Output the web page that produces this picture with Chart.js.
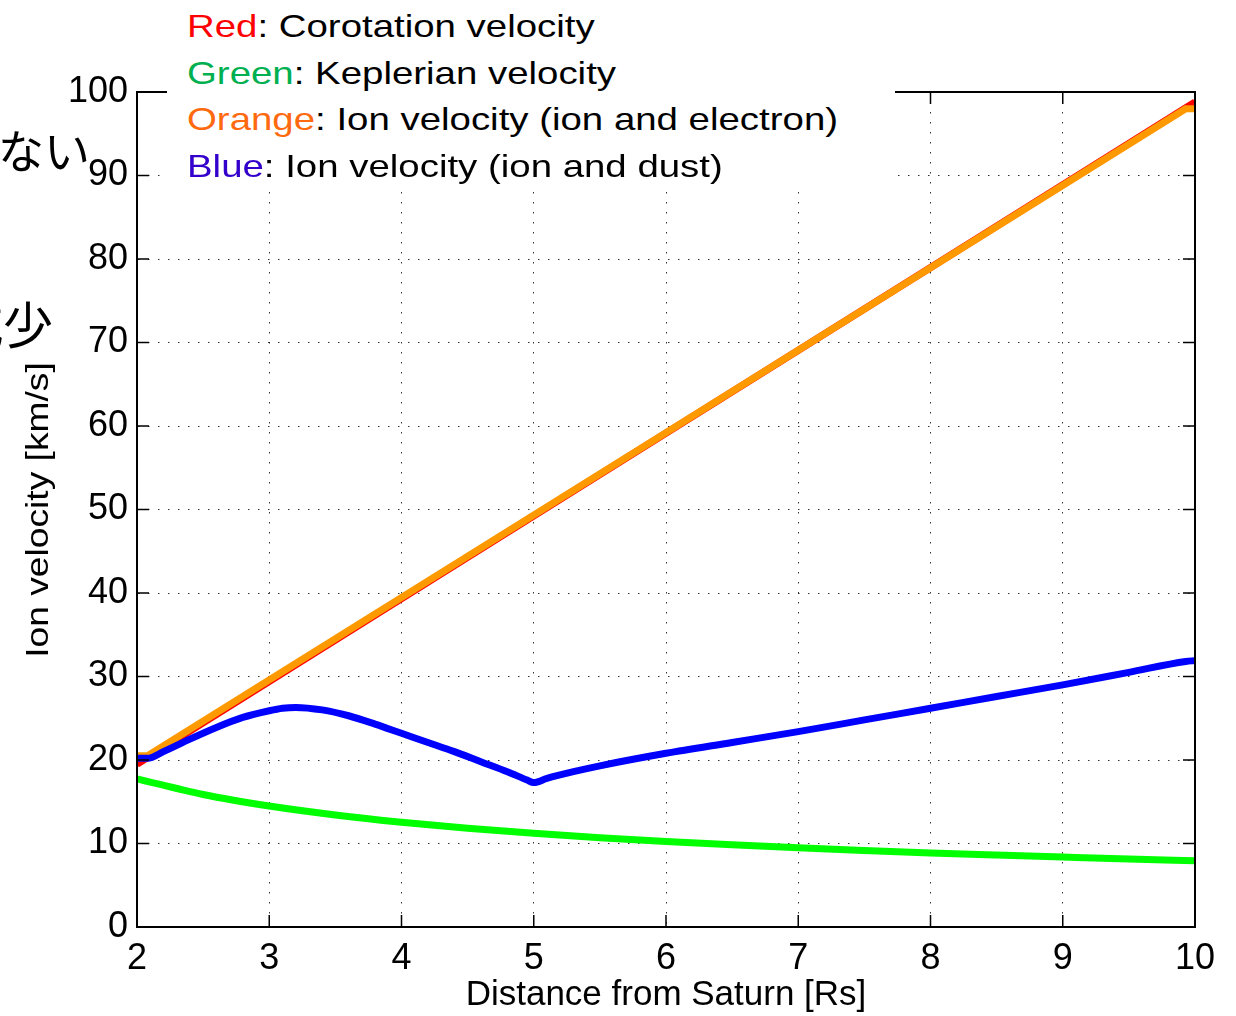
<!DOCTYPE html>
<html>
<head>
<meta charset="utf-8">
<script src="https://cdn.jsdelivr.net/npm/chart.js@4/dist/chart.umd.min.js"></script>
<style>
  html, body { margin: 0; padding: 0; background: #fff; }
  #wrap { position: relative; width: 1236px; height: 1016px; overflow: hidden; font-family: 'Liberation Sans', Arial, sans-serif; }
  canvas { position: absolute; left: 0; top: 0; }
  .frag { position: absolute; font-family: 'Noto Sans CJK JP', sans-serif; line-height: 1; white-space: nowrap; color: #000; }
  #legend { position: absolute; left: 167px; top: 0; width: 728px; height: 188px; background: #fff; }
  #legend .ln { position: absolute; left: 20px; font-size: 32px; line-height: 46.7px; white-space: nowrap; transform: scaleX(1.2); transform-origin: left center; color: #000; }
  #ytitle { position: absolute; left: 37px; top: 510px; font-size: 31px; line-height: 1; white-space: nowrap; transform: translate(-50%, -50%) rotate(-90deg) scaleX(1.2); color: #000; }
</style>
</head>
<body>
<div id="wrap">
  <canvas id="c" width="1236" height="1016"></canvas>
  <div class="frag" style="left:-2px; top:125px; font-size:46px;">ない</div>
  <div class="frag" style="left:-47px; top:297px; font-size:50px;">減少</div>
  <div id="ytitle">Ion velocity [km/s]</div>
  <div id="legend">
    <div class="ln" style="top:3px;"><span style="color:#ff0000">Red</span>: Corotation velocity</div>
    <div class="ln" style="top:49.7px;"><span style="color:#00b050">Green</span>: Keplerian velocity</div>
    <div class="ln" style="top:96.4px;"><span style="color:#ff6a10">Orange</span>: Ion velocity (ion and electron)</div>
    <div class="ln" style="top:143px;"><span style="color:#3300cc">Blue</span>: Ion velocity (ion and dust)</div>
  </div>
</div>
<script>
// ---- data ----
const xTicks = [2, 3, 4, 5, 6, 7, 8, 9, 10];
const yTicks = [0, 10, 20, 30, 40, 50, 60, 70, 80, 90, 100];

const redX = [2, 10];
const redY = [19.5, 98.8];

const orangeX = [2.0, 2.08, 9.93, 10.0];
const orangeY = [20.5, 20.5, 98.0, 98.0];

const greenX = [2.0, 2.5, 3.0, 3.5, 4.0, 4.5, 5.0, 5.5, 6.0, 6.5, 7.0, 7.5, 8.0, 8.5, 9.0, 9.5, 10.0];
const greenY = [17.75, 15.87, 14.49, 13.42, 12.55, 11.83, 11.22, 10.70, 10.25, 9.85, 9.49, 9.17, 8.87, 8.61, 8.37, 8.14, 7.94];

const blueX = [2.00, 2.08, 2.2, 2.4, 2.6, 2.8, 3.0, 3.1, 3.2, 3.4, 3.6, 3.8, 4.0, 4.2, 4.4, 4.6, 4.8, 4.95, 5.0, 5.1, 5.3, 5.5, 6.0, 6.5, 7.0, 7.5, 8.0, 8.5, 9.0, 9.5, 9.93, 10.0];
const blueY = [20.2, 20.2, 21.0, 22.5, 23.9, 25.1, 25.9, 26.2, 26.3, 26.0, 25.3, 24.3, 23.2, 22.1, 21.0, 19.8, 18.6, 17.6, 17.3, 17.8, 18.6, 19.3, 20.8, 22.1, 23.4, 24.8, 26.2, 27.6, 29.0, 30.5, 31.8, 31.9];

function pts(xs, ys) { return xs.map((x, i) => ({ x: x, y: ys[i] })); }

const frame = {
  id: 'frame',
  afterDatasetsDraw(chart) {
    const ctx = chart.ctx;
    const a = chart.chartArea;
    const xs = chart.scales.x, ys = chart.scales.y;
    ctx.save();
    ctx.strokeStyle = '#000';
    ctx.lineWidth = 1.5;
    const L = 12;
    ctx.beginPath();
    xTicks.forEach(v => {
      const p = xs.getPixelForValue(v);
      ctx.moveTo(p, a.bottom); ctx.lineTo(p, a.bottom - L);
      ctx.moveTo(p, a.top); ctx.lineTo(p, a.top + L);
    });
    yTicks.forEach(v => {
      const p = ys.getPixelForValue(v);
      ctx.moveTo(a.left, p); ctx.lineTo(a.left + L, p);
      ctx.moveTo(a.right, p); ctx.lineTo(a.right - L, p);
    });
    ctx.stroke();
    ctx.lineWidth = 2;
    ctx.strokeRect(a.left, a.top, a.right - a.left, a.bottom - a.top);
    ctx.restore();
  }
};

new Chart(document.getElementById('c'), {
  type: 'line',
  data: {
    datasets: [
      { label: 'Red', data: pts(redX, redY), borderColor: '#ff0000', borderWidth: 7, pointRadius: 0, order: 4 },
      { label: 'Orange', data: pts(orangeX, orangeY), borderColor: '#ff9900', borderWidth: 7, pointRadius: 0, order: 3 },
      { label: 'Green', data: pts(greenX, greenY), borderColor: '#00ff00', borderWidth: 7, pointRadius: 0, cubicInterpolationMode: 'monotone', order: 2 },
      { label: 'Blue', data: pts(blueX, blueY), borderColor: '#0000ff', borderWidth: 7, pointRadius: 0, cubicInterpolationMode: 'monotone', order: 1 }
    ]
  },
  options: {
    responsive: false,
    animation: false,
    devicePixelRatio: 1,
    layout: { padding: { left: 0, top: 92, right: 41, bottom: 0 } },
    plugins: { legend: { display: false }, tooltip: { enabled: false } },
    scales: {
      x: {
        type: 'linear', min: 2, max: 10,
        afterBuildTicks(s) { s.ticks = xTicks.map(v => ({ value: v })); },
        afterFit(s) { s.height = 89; },
        ticks: { font: { family: 'Liberation Sans', size: 36 }, color: '#000', padding: 10, maxRotation: 0, autoSkip: false },
        grid: { color: 'rgba(0,0,0,0.8)', lineWidth: 1, drawTicks: false },
        border: { display: true, color: '#000', width: 2, dash: [1.5, 8.5] },
        title: { display: true, text: 'Distance from Saturn [Rs]', font: { family: 'Liberation Sans', size: 35 }, color: '#000', padding: { top: 0, bottom: 0 } }
      },
      y: {
        type: 'linear', min: 0, max: 100,
        afterBuildTicks(s) { s.ticks = yTicks.map(v => ({ value: v })); },
        afterFit(s) { s.width = 137; },
        ticks: { font: { family: 'Liberation Sans', size: 36 }, color: '#000', padding: 9, autoSkip: false },
        grid: { color: 'rgba(0,0,0,0.8)', lineWidth: 1, drawTicks: false },
        border: { display: true, color: '#000', width: 2, dash: [1.5, 8.5] }
      }
    }
  },
  plugins: [frame]
});
</script>
</body>
</html>
